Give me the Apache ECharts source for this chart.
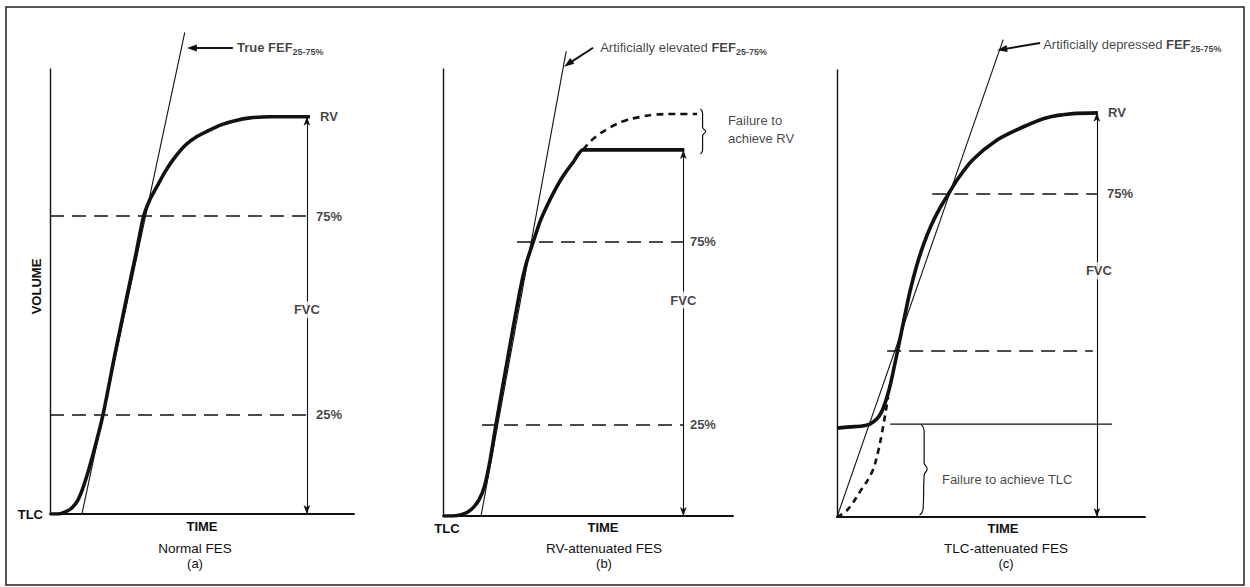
<!DOCTYPE html>
<html>
<head>
<meta charset="utf-8">
<script src="https://cdn.jsdelivr.net/npm/echarts@6/dist/echarts.min.js"></script>
<style>
  html, body { margin: 0; padding: 0; background: #fff; }
  #chart { width: 1250px; height: 587px; }
</style>
</head>
<body>
<div id="chart"></div>
<script>
// ---------- data (time in s, volume in % of FVC) ----------
// Panel (a) Normal FES
const curveA   = [[0,0],[0.16,0],[0.30,0.5],[0.43,1.5],[0.55,3.5],[0.67,7.3],[0.83,14.1],[1.05,25.2],[1.28,40.1],[1.52,54.9],[1.70,65.7],[1.84,74.6],[1.97,79.1],[2.11,82.4],[2.27,86.1],[2.43,89.2],[2.66,92.7],[2.90,95.0],[3.16,96.7],[3.39,98.0],[3.65,99.0],[3.95,99.7],[4.34,100],[5.13,100]];
const tangentA = [[0.63,0],[2.66,121.2]];
const pointerA = [[3.61,117.3],[2.80,117.3]];
const levelsA  = [75, 25];
// Panel (b) RV-attenuated FES
const curveB     = [[0,0],[0.18,0],[0.34,0.3],[0.49,1.1],[0.61,2.5],[0.71,4.4],[0.81,7.7],[0.93,15.3],[1.05,25.4],[1.28,43.4],[1.52,61.7],[1.64,68.9],[1.78,74.9],[1.91,80.3],[2.05,84.7],[2.21,89.1],[2.37,92.9],[2.57,96.7],[2.76,100],[4.76,100]];
const trueCurveB = [[2.76,100],[2.90,102.2],[3.06,104.1],[3.24,105.7],[3.43,107.1],[3.63,108.2],[3.89,109.0],[4.14,109.6],[4.58,109.8],[5.01,109.8]];
const tangentB   = [[0.75,0],[2.43,127.0]];
const pointerB   = [[2.96,127.9],[2.47,123.5]];
const levelsB    = [75, 25];
// Panel (c) TLC-attenuated FES
const curveC      = [[0,22.0],[0.26,22.3],[0.49,22.5],[0.65,23.0],[0.79,24.3],[0.88,26.0],[0.96,28.6],[1.03,31.6],[1.10,35.4],[1.18,40.2],[1.30,47.5],[1.44,55.8],[1.58,62.5],[1.72,67.8],[1.86,72.2],[2.02,76.2],[2.17,79.3],[2.37,83.4],[2.68,88.4],[3.16,93.3],[3.67,96.5],[4.14,98.8],[4.66,99.8],[5.15,100]];
const trueStartC  = [[0,0],[0.20,1.7],[0.45,6.2],[0.69,11.1],[0.81,16.1],[0.89,21.0],[0.95,25.2],[1.01,29.7]];
const tangentC    = [[0,0],[3.28,118.1]];
const pointerC    = [[4.01,117.3],[3.26,115.7]];
const tlcLevelC   = [[1.05,23.0],[5.43,23.0]];
const levelsC     = [80.0, 41.1];
// braces
const braceB = [[5.08,111.2],[5.12,110.0],[5.12,106.2],[5.18,105.0],[5.12,103.8],[5.12,100.0],[5.08,98.9]];
const braceC = [[1.66,23.0],[1.72,21.3],[1.72,13.5],[1.78,11.9],[1.72,10.3],[1.70,2.0],[1.63,0.4]];
// texts
const panelTitles = ['Normal FES', 'RV-attenuated FES', 'TLC-attenuated FES'];
const panelTags   = ['(a)', '(b)', '(c)'];
const levelLabels = ['75%', '25%'];

// ---------- styles ----------
const FONT = '"Liberation Sans", Arial, Helvetica, sans-serif';
const INK = '#111';
const RICH = {
  m:   { fontFamily: FONT, fontSize: 13, fontWeight: 'bold', color: INK, lineHeight: 18 },
  r:   { fontFamily: FONT, fontSize: 13, fontWeight: 'normal', color: INK, lineHeight: 18 },
  sub: { fontFamily: FONT, fontSize: 9, fontWeight: 'bold', color: INK, lineHeight: 9, verticalAlign: 'bottom' }
};
const dashLvl = { color: INK, width: 1.6, type: [14, 8] };
const thin = { color: INK, width: 1.1 };
const arrowStyle = { color: INK, width: 1.1, type: 'solid' };

function seg(x1, y1, x2, y2, style, s1, s2, size) {
  return [
    { coord: [x1, y1], symbol: s1 || 'none', symbolSize: size || [6, 9], lineStyle: style },
    { coord: [x2, y2], symbol: s2 || 'none', symbolSize: size || [6, 9] }
  ];
}
function txt(x, y, text, pos, extra) {
  return { value: [x, y], label: Object.assign({ show: true, position: pos, distance: 0, formatter: text }, extra || {}) };
}
function labelSeries(i, data) {
  return {
    type: 'scatter', xAxisIndex: i, yAxisIndex: i, symbolSize: 0, clip: false, silent: true, z: 10,
    label: { show: true, color: INK, fontFamily: FONT, fontSize: 13, fontWeight: 'bold', rich: RICH },
    data: data
  };
}
function lineSeries(i, name, data, style, extra) {
  return Object.assign({
    type: 'line', name: name, xAxisIndex: i, yAxisIndex: i, data: data,
    showSymbol: false, symbol: 'none', lineStyle: style, silent: true
  }, extra || {});
}
// annotation pointer: a short line whose last point carries an arrow head
function pointerSeries(i, pts, rot) {
  return {
    type: 'line', xAxisIndex: i, yAxisIndex: i, clip: false, silent: true, z: 6,
    showSymbol: true, symbol: 'none', lineStyle: { color: INK, width: 2 },
    itemStyle: { color: INK },
    data: [
      { value: pts[0], symbol: 'none' },
      { value: pts[1], symbol: 'triangle', symbolSize: [7, 10], symbolRotate: rot }
    ]
  };
}
const whiteBg = { backgroundColor: '#fff', padding: [2, 1, 2, 1] };

const grids = [
  { left: 50,  top: 69, width: 304, height: 445 },
  { left: 443, top: 69, width: 290, height: 447 },
  { left: 837, top: 70, width: 308, height: 447 }
];
const xMax = [6.0, 5.72, 6.08];
const yMax = [112, 122.1, 110.6];
const timeNamePad = [[0,0,0,0],[0,0,0,30],[0,0,0,24]];

const xAxes = grids.map((g, i) => ({
  gridIndex: i, type: 'value', min: 0, max: xMax[i],
  axisLine: { show: true, onZero: false, lineStyle: { color: INK, width: 2 } },
  axisTick: { show: false }, splitLine: { show: false },
  axisLabel: i === 1 ? { show: true, formatter: v => (v === 0 ? 'TLC' : ''), margin: 6, color: INK,
                          fontFamily: FONT, fontSize: 13, fontWeight: 'bold', padding: [0,0,0,8] }
                     : { show: false },
  name: 'TIME', nameLocation: 'middle', nameGap: i === 0 ? 6 : 5, nameMoveOverlap: false,
  nameTextStyle: { color: INK, fontFamily: FONT, fontSize: 13, fontWeight: 'bold', padding: timeNamePad[i] }
}));
const yAxes = grids.map((g, i) => ({
  gridIndex: i, type: 'value', min: 0, max: yMax[i],
  axisLine: { show: true, onZero: false, lineStyle: { color: INK, width: 1.4 } },
  axisTick: { show: false }, splitLine: { show: false },
  axisLabel: i === 0 ? { show: true, formatter: v => (v === 0 ? 'TLC' : ''), margin: 7, color: INK,
                          fontFamily: FONT, fontSize: 13, fontWeight: 'bold' }
                     : { show: false },
  name: i === 0 ? 'VOLUME' : '', nameLocation: 'middle', nameGap: 7, nameMoveOverlap: false,
  nameTextStyle: { color: INK, fontFamily: FONT, fontSize: 13, fontWeight: 'bold', padding: [0, 0, 0, 10] }
}));

const titleX = [195, 604, 1006];
const titles = panelTitles.map((t, i) => ({
  text: t, subtext: panelTags[i], left: titleX[i], top: 541, textAlign: 'center', padding: 0, itemGap: 0,
  textStyle: { fontFamily: FONT, fontSize: 13.5, fontWeight: 'normal', color: INK, lineHeight: 15 },
  subtextStyle: { fontFamily: FONT, fontSize: 13, color: INK, lineHeight: 14 }
}));

const CURVE = { color: INK, width: 3.6 };
const series = [
  // ---- panel (a) ----
  lineSeries(0, 'Normal FES', curveA, CURVE, { smooth: 0.2, z: 5 }),
  lineSeries(0, 'True FEF25-75%', tangentA, thin, {
    clip: false, z: 4,
    markLine: { silent: true, animation: false, label: { show: false }, symbol: 'none',
      data: [
        seg(0, levelsA[0], 5.07, levelsA[0], dashLvl),
        seg(0, levelsA[1], 5.07, levelsA[1], dashLvl),
        seg(5.07, 0, 5.07, 100, arrowStyle, 'arrow', 'arrow', [5, 9])
      ] }
  }),
  pointerSeries(0, pointerA, 90),
  labelSeries(0, [
    txt(5.33, 100, 'RV', 'right'),
    txt(5.25, levelsA[0], levelLabels[0], 'right'),
    txt(5.25, levelsA[1], levelLabels[1], 'right'),
    txt(5.07, 51.4, 'FVC', 'inside', whiteBg),
    txt(3.69, 117.3, '{m|True FEF}{sub|25-75%}', 'right')
  ]),
  // ---- panel (b) ----
  lineSeries(1, 'RV-attenuated FES', curveB, CURVE, { smooth: 0.2, z: 5 }),
  lineSeries(1, 'Expected curve', trueCurveB, { color: INK, width: 2.6, type: [7, 5] }, { smooth: 0.4, z: 5 }),
  lineSeries(1, 'Artificially elevated FEF25-75%', tangentB, thin, {
    clip: false, z: 4,
    markLine: { silent: true, animation: false, label: { show: false }, symbol: 'none',
      data: [
        seg(1.46, levelsB[0], 4.74, levelsB[0], dashLvl),
        seg(0.77, levelsB[1], 4.74, levelsB[1], dashLvl),
        seg(4.74, 0, 4.74, 100, arrowStyle, 'arrow', 'arrow', [5, 9])
      ] }
  }),
  pointerSeries(1, pointerB, 126),
  lineSeries(1, 'brace RV', braceB, { color: INK, width: 1.2 }, { smooth: 0.5, clip: false }),
  labelSeries(1, [
    txt(4.87, levelsB[0], levelLabels[0], 'right'),
    txt(4.87, levelsB[1], levelLabels[1], 'right'),
    txt(4.74, 59.0, 'FVC', 'inside', whiteBg),
    txt(5.62, 105.6, '{r|Failure to}\n{r|achieve RV}', 'right', { lineHeight: 15 }),
    txt(3.10, 128.1, '{r|Artificially elevated }{m|FEF}{sub|25-75%}', 'right')
  ]),
  // ---- panel (c) ----
  lineSeries(2, 'TLC-attenuated FES', curveC, CURVE, { smooth: 0.25, z: 5 }),
  lineSeries(2, 'Expected start', trueStartC, { color: INK, width: 2.6, type: [6, 5] }, { smooth: 0.4, z: 5 }),
  lineSeries(2, 'Attenuated TLC level', tlcLevelC, { color: INK, width: 1.3 }, { z: 4 }),
  lineSeries(2, 'Artificially depressed FEF25-75%', tangentC, thin, {
    clip: false, z: 4,
    markLine: { silent: true, animation: false, label: { show: false }, symbol: 'none',
      data: [
        seg(1.88, levelsC[0], 5.13, levelsC[0], dashLvl),
        seg(0.99, levelsC[1], 5.05, levelsC[1], dashLvl),
        seg(5.13, 0, 5.13, 100, arrowStyle, 'arrow', 'arrow', [5, 9])
      ] }
  }),
  pointerSeries(2, pointerC, 100),
  lineSeries(2, 'brace TLC', braceC, { color: INK, width: 1.2 }, { smooth: 0.5, clip: false }),
  labelSeries(2, [
    txt(5.35, 100, 'RV', 'right'),
    txt(5.33, levelsC[0], levelLabels[0], 'right'),
    txt(5.17, 60.9, 'FVC', 'inside', whiteBg),
    txt(3.36, 9.4, '{r|Failure to achieve TLC}', 'inside'),
    txt(4.07, 116.8, '{r|Artificially depressed }{m|FEF}{sub|25-75%}', 'right')
  ])
];

const chart = echarts.init(document.getElementById('chart'), null, { renderer: 'svg' });
chart.setOption({
  backgroundColor: '#fff',
  animation: false,
  title: titles,
  grid: grids,
  xAxis: xAxes,
  yAxis: yAxes,
  series: series,
  graphic: [{
    type: 'rect', silent: true, z: -1,
    shape: { x: 6, y: 7, width: 1238, height: 578 },
    style: { fill: 'none', stroke: '#222', lineWidth: 1.5 }
  }]
});
</script>
</body>
</html>
